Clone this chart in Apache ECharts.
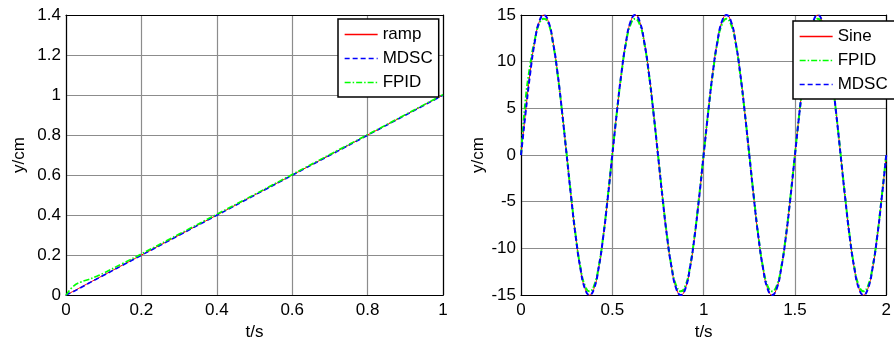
<!DOCTYPE html>
<html><head><meta charset="utf-8">
<script src="https://cdn.jsdelivr.net/npm/echarts@6/dist/echarts.min.js"></script>
<style>html,body{margin:0;padding:0;background:#fff}#c{width:894px;height:346px}</style>
</head><body><div id="c"></div>
<script>
// Left panel: ramp response
var rampT    = [0, 0.02, 0.04, 0.06, 0.08, 0.1, 0.15, 0.2, 0.3, 0.4, 0.5, 0.6, 0.7, 0.8, 0.9, 1.0];
var rampRef  = [0, 0.02, 0.04, 0.06, 0.08, 0.1, 0.15, 0.2, 0.3, 0.4, 0.5, 0.6, 0.7, 0.8, 0.9, 1.0];
var rampMDSC = [0, 0.018, 0.038, 0.059, 0.079, 0.099, 0.149, 0.199, 0.299, 0.399, 0.499, 0.599, 0.699, 0.799, 0.899, 0.999];
var rampFPID = [0, 0.045, 0.066, 0.078, 0.093, 0.11, 0.158, 0.206, 0.305, 0.404, 0.503, 0.603, 0.703, 0.802, 0.902, 1.002];

// Right panel: sine response (t step 0.025 s)
var sineT = [0,0.025,0.05,0.075,0.1,0.125,0.15,0.175,0.2,0.225,0.25,0.275,0.3,0.325,0.35,0.375,0.4,0.425,0.45,0.475,
  0.5,0.525,0.55,0.575,0.6,0.625,0.65,0.675,0.7,0.725,0.75,0.775,0.8,0.825,0.85,0.875,0.9,0.925,0.95,0.975,
  1,1.025,1.05,1.075,1.1,1.125,1.15,1.175,1.2,1.225,1.25,1.275,1.3,1.325,1.35,1.375,1.4,1.425,1.45,1.475,
  1.5,1.525,1.55,1.575,1.6,1.625,1.65,1.675,1.7,1.725,1.75,1.775,1.8,1.825,1.85,1.875,1.9,1.925,1.95,1.975,2];
var sineRef = [0,4.64,8.82,12.14,14.27,15,14.27,12.14,8.82,4.64,0,-4.64,-8.82,-12.14,-14.27,-15,-14.27,-12.14,-8.82,-4.64,
  0,4.64,8.82,12.14,14.27,15,14.27,12.14,8.82,4.64,0,-4.64,-8.82,-12.14,-14.27,-15,-14.27,-12.14,-8.82,-4.64,
  0,4.64,8.82,12.14,14.27,15,14.27,12.14,8.82,4.64,0,-4.64,-8.82,-12.14,-14.27,-15,-14.27,-12.14,-8.82,-4.64,
  0,4.64,8.82,12.14,14.27,15,14.27,12.14,8.82,4.64,0,-4.64,-8.82,-12.14,-14.27,-15,-14.27,-12.14,-8.82,-4.64,0];
var sineFPID = [0,5.9,9.6,12.3,14.1,14.6,14.1,12.0,8.7,4.6,0.1,-4.5,-8.7,-12.0,-14.0,-14.6,-14.0,-12.0,-8.7,-4.5,
  0.1,4.6,8.7,12.0,14.0,14.6,14.0,12.0,8.7,4.6,0.1,-4.5,-8.7,-12.0,-14.0,-14.6,-14.0,-12.0,-8.7,-4.5,
  0.1,4.6,8.7,12.0,14.0,14.6,14.0,12.0,8.7,4.6,0.1,-4.5,-8.7,-12.0,-14.0,-14.6,-14.0,-12.0,-8.7,-4.5,
  0.1,4.6,8.7,12.0,14.0,14.6,14.0,12.0,8.7,4.6,0.1,-4.5,-8.7,-12.0,-14.0,-14.6,-14.0,-12.0,-8.7,-4.5,0.1];
var sineMDSC = [0,4.5,8.7,12.1,14.3,15,14.3,12.1,8.8,4.6,0,-4.6,-8.8,-12.1,-14.3,-15,-14.3,-12.1,-8.8,-4.6,
  0,4.6,8.8,12.1,14.3,15,14.3,12.1,8.8,4.6,0,-4.6,-8.8,-12.1,-14.3,-15,-14.3,-12.1,-8.8,-4.6,
  0,4.6,8.8,12.1,14.3,15,14.3,12.1,8.8,4.6,0,-4.6,-8.8,-12.1,-14.3,-15,-14.3,-12.1,-8.8,-4.6,
  0,4.6,8.8,12.1,14.3,15,14.3,12.1,8.8,4.6,0,-4.6,-8.8,-12.1,-14.3,-15,-14.3,-12.1,-8.8,-4.6,0];

function pairs(t, v){ return t.map(function(x,i){ return [x, v[i]]; }); }

var FONT = 'Liberation Sans, Arial, sans-serif';
var txt = {color:'#000', fontFamily:FONT, fontSize:17};
var GRID = {show:true, lineStyle:{color:'#8c8c8c', width:1.2}};
function xAxis(idx, max, interval){
  return {type:'value', gridIndex:idx, min:0, max:max, interval:interval,
    name:'t/s', nameLocation:'middle', nameGap:26, nameTextStyle:txt,
    axisLine:{show:true, onZero:false, lineStyle:{color:'#000', width:1.2}},
    axisTick:{show:false},
    axisLabel:Object.assign({margin:7}, txt),
    splitLine:GRID};
}
function xTop(idx, max, interval){
  return {type:'value', gridIndex:idx, position:'top', min:0, max:max, interval:interval,
    axisLine:{show:true, onZero:false, lineStyle:{color:'#000', width:1.2}},
    axisTick:{show:false}, axisLabel:{show:false}, splitLine:{show:false}};
}
function yAxis(idx, min, max, interval, gap){
  return {type:'value', gridIndex:idx, min:min, max:max, interval:interval,
    name:'y/cm', nameLocation:'middle', nameGap:gap, nameTextStyle:txt,
    axisLine:{show:true, onZero:false, lineStyle:{color:'#000', width:1.2}},
    axisTick:{show:false},
    axisLabel:Object.assign({margin:5}, txt),
    splitLine:GRID};
}
function yRight(idx, min, max, interval){
  return {type:'value', gridIndex:idx, position:'right', min:min, max:max, interval:interval,
    axisLine:{show:true, onZero:false, lineStyle:{color:'#000', width:1.2}},
    axisTick:{show:false}, axisLabel:{show:false}, splitLine:{show:false}};
}
function line(name, xi, yi, data, color, type, width, z){
  return {name:name, type:'line', xAxisIndex:xi, yAxisIndex:yi, data:data, symbol:'none',
    smooth:true, z:z, animation:false,
    lineStyle:{color:color, type:type, width:width}, itemStyle:{color:color}};
}
var legendBase = {orient:'vertical', backgroundColor:'#fff', borderColor:'#000', borderWidth:1.5,
  itemWidth:33, itemHeight:12, itemGap:7, padding:[7,6,6,6], textStyle:txt, borderRadius:0, z:20,
  itemStyle:{color:'transparent', borderWidth:0, opacity:0}, lineStyle:{width:1.3}};

var chart = echarts.init(document.getElementById('c'), null, {renderer:'canvas'});
chart.setOption({
  animation:false,
  grid:[{left:66, top:15, width:377, height:289},
        {left:521, top:15, width:372, height:289}],
  xAxis:[xAxis(0,1,0.2), xAxis(1,2,0.5), xTop(0,1,0.2), xTop(1,2,0.5)],
  yAxis:[yAxis(0,0,1.4,0.2,38), yAxis(1,-15,15,5,34), yRight(0,0,1.4,0.2), yRight(1,-15,15,5)],
  legend:[
    Object.assign({}, legendBase, {left:338, top:19, data:['ramp','MDSC','FPID']}),
    Object.assign({}, legendBase, {left:793, top:21, data:['Sine','FPID ','MDSC ']})
  ],
  series:[
    line('ramp',0,0,pairs(rampT,rampRef),'#ff0000','solid',1,2),
    line('MDSC',0,0,pairs(rampT,rampMDSC),'#0000ff',[5,3],1.6,3),
    line('FPID',0,0,pairs(rampT,rampFPID),'#00ff00',[6,2,1.5,2],1.6,4),
    line('Sine',1,1,pairs(sineT,sineRef),'#ff0000','solid',1,2),
    line('FPID ',1,1,pairs(sineT,sineFPID),'#00ff00',[6,2,1.5,2],2,3),
    line('MDSC ',1,1,pairs(sineT,sineMDSC),'#0000ff',[5,3],2,4)
  ]
});
</script></body></html>
